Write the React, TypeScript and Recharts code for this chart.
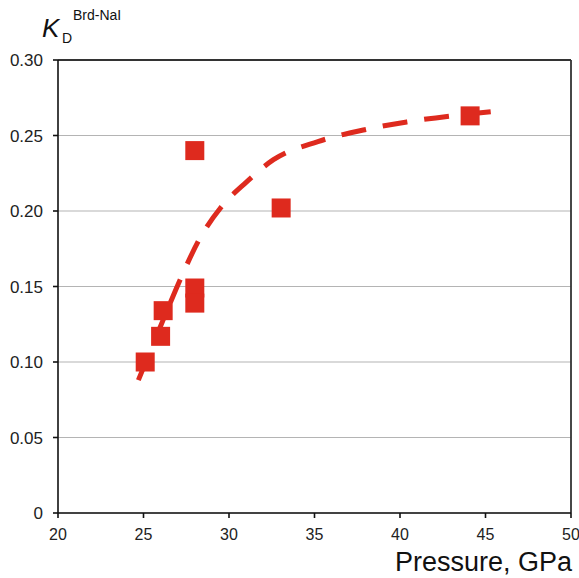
import React from 'react';
import { ScatterChart, Scatter, XAxis, YAxis, CartesianGrid, ReferenceLine } from 'recharts';

const pressure = [25.1, 26.0, 26.15, 28.0, 28.0, 28.0, 33.05, 44.1];
const kd = [0.1, 0.117, 0.134, 0.24, 0.149, 0.139, 0.202, 0.263];

const fitPressure = [24.7, 25.5, 26.3, 27.2, 28.3, 29.5, 31.0, 32.6, 35.2, 38.0, 40.4, 43.0, 45.6];
const fitKd = [0.088, 0.110, 0.132, 0.156, 0.182, 0.202, 0.219, 0.234, 0.246, 0.254, 0.259, 0.263, 0.266];

const xTicks = [20, 25, 30, 35, 40, 45, 50];
const yTicks = [0, 0.05, 0.1, 0.15, 0.2, 0.25, 0.3];

const points = pressure.map((p, i) => ({ x: p, y: kd[i] }));
const fit = fitPressure.map((p, i) => ({ x: p, y: fitKd[i] }));

const RED = '#de2a1e';
const FONT = '"Liberation Sans", Arial, sans-serif';

const Square = (props: any) => {
  const { cx, cy } = props;
  if (cx == null || cy == null) return <g />;
  return <rect x={cx - 9.5} y={cy - 9.5} width={19} height={19} fill={RED} />;
};

export default function App() {
  return (
    <div style={{ position: 'absolute', left: 0, top: 0, width: 579, height: 578, background: '#fff', fontFamily: FONT }}>
      <ScatterChart width={579} height={578} margin={{ top: 60, right: 8, left: 8, bottom: 35 }}>
        <CartesianGrid horizontal vertical={false} stroke="#b4b4b4" strokeWidth={1.2} />
        <XAxis
          type="number"
          dataKey="x"
          domain={[20, 50]}
          ticks={xTicks}
          allowDataOverflow
          height={30}
          tickSize={5}
          tickMargin={11}
          stroke="#111"
          strokeWidth={1.6}
          tick={{ fill: '#222', fontSize: 16, fontFamily: FONT }}
        />
        <YAxis
          type="number"
          dataKey="y"
          domain={[0, 0.3]}
          ticks={yTicks}
          allowDataOverflow
          width={50}
          tickSize={5}
          tickMargin={10}
          stroke="#111"
          strokeWidth={1.6}
          tickFormatter={(v: number) => (v === 0 ? '0' : v.toFixed(2))}
          tick={{ fill: '#222', fontSize: 17, fontFamily: FONT }}
        />
        <ReferenceLine y={0.3} stroke="#333" strokeWidth={1.8} ifOverflow="extendDomain" />
        <ReferenceLine x={50} stroke="#333" strokeWidth={1.8} ifOverflow="extendDomain" />
        <Scatter
          data={fit}
          isAnimationActive={false}
          line={{ stroke: RED, strokeWidth: 5, strokeDasharray: '25 17' }}
          lineType="joint"
          lineJointType="monotoneX"
          shape={() => <g />}
        />
        <Scatter data={points} isAnimationActive={false} shape={Square} />
      </ScatterChart>
      <svg width={579} height={578} style={{ position: 'absolute', left: 0, top: 0, pointerEvents: 'none' }}>
        <text x={42} y={37} fontSize={26} fontStyle="italic" fill="#111" fontFamily={FONT}>K</text>
        <text x={62} y={43} fontSize={14} fill="#111" fontFamily={FONT}>D</text>
        <text x={73} y={20} fontSize={14} fill="#111" fontFamily={FONT}>Brd-NaI</text>
        <text x={572} y={571} fontSize={27} textAnchor="end" fill="#111" fontFamily={FONT}>Pressure, GPa</text>
      </svg>
    </div>
  );
}
